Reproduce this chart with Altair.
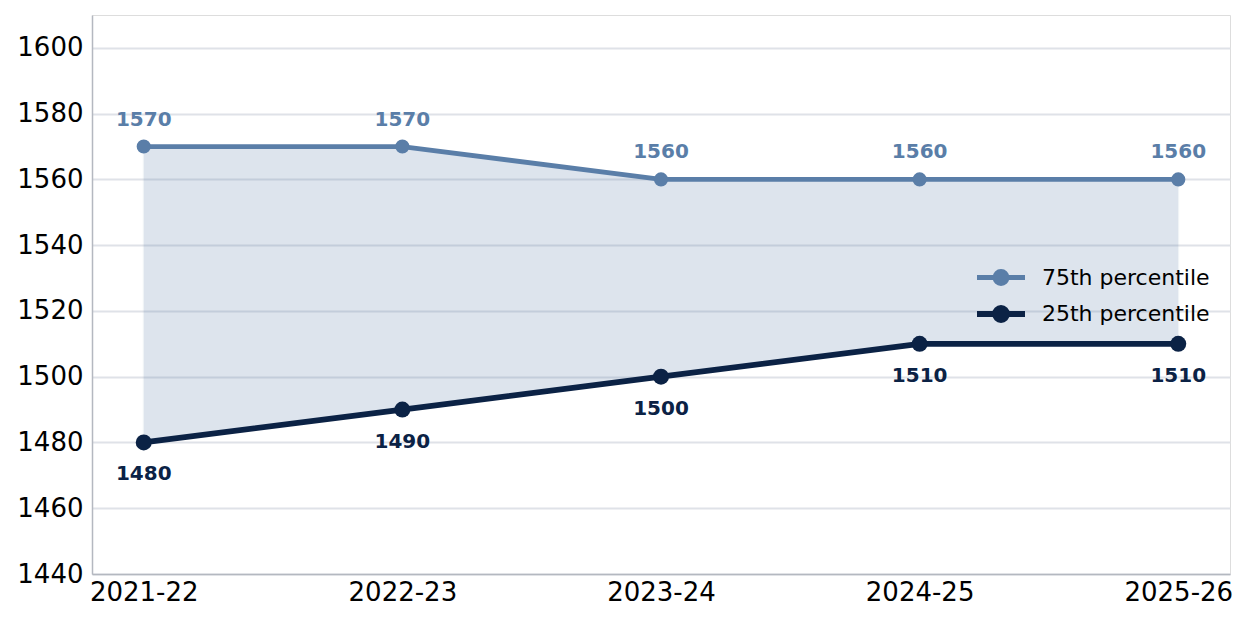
import altair as alt
import pandas as pd

years = ["2021-22", "2022-23", "2023-24", "2024-25", "2025-26"]
p75 = [1570, 1570, 1560, 1560, 1560]
p25 = [1480, 1490, 1500, 1510, 1510]
series_names = ["75th percentile", "25th percentile"]
series_colors = ["#5a7ea8", "#0b2245"]

wide = pd.DataFrame({"year": years, "p75": p75, "p25": p25})
long = pd.concat([
    pd.DataFrame({"year": years, "value": p75, "series": series_names[0]}),
    pd.DataFrame({"year": years, "value": p25, "series": series_names[1]}),
], ignore_index=True)

FONT = "DejaVu Sans"

x_enc = alt.X("year:N", sort=years,
              scale=alt.Scale(type="point", padding=0.2),
              axis=alt.Axis(title=None, labelAngle=0, ticks=False, grid=False,
                            labelFontSize=26, labelColor="#000000", labelFont=FONT,
                            labelPadding=5, domainColor="#b4b8c0", domainWidth=1.5))
y_scale = alt.Scale(domain=[1440, 1610], nice=False, zero=False)
y_enc = alt.Y("value:Q", scale=y_scale,
              axis=alt.Axis(title=None, values=list(range(1440, 1601, 20)), ticks=False,
                            format="d",
                            labelFontSize=26, labelColor="#000000", labelFont=FONT,
                            labelPadding=9, gridColor="#dfe2e8", gridWidth=2,
                            domainColor="#b4b8c0", domainWidth=1.5))

color_scale = alt.Scale(domain=series_names, range=series_colors)


def ring(r):
    return f"M{r},0A{r},{r} 0 1,1 {-r},0A{r},{r} 0 1,1 {r},0Z"


# line segment plus concentric rings (stroked) that read as a filled dot
legend_symbol = "M-2,0H2" + ring(0.5) + ring(0.29) + ring(0.08)

area = alt.Chart(wide).mark_area(color="#5a7ea8", opacity=0.2, stroke="#5a7ea8",
                                 strokeOpacity=0.25, strokeWidth=2).encode(
    x=x_enc,
    y=alt.Y("p25:Q", scale=y_scale),
    y2="p75:Q",
)

lines = alt.Chart(long).mark_line().encode(
    x=x_enc,
    y=y_enc,
    color=alt.Color("series:N", scale=color_scale, sort=series_names,
                    legend=alt.Legend(title=None, orient="none", legendX=894, legendY=248,
                                      symbolType=legend_symbol, symbolSize=576,
                                      labelFontSize=22, labelLimit=400,
                                      labelFont=FONT, labelColor="#000000",
                                      rowPadding=2, labelOffset=26)),
    strokeWidth=alt.StrokeWidth("series:N", scale=alt.Scale(domain=series_names, range=[4.8, 5.8]),
                                legend=None),
)

pts75 = alt.Chart(wide).mark_point(filled=True, opacity=1, size=200,
                                   color=series_colors[0]).encode(
    x=x_enc, y=alt.Y("p75:Q", scale=y_scale))
pts25 = alt.Chart(wide).mark_point(filled=True, opacity=1, size=255,
                                   color=series_colors[1]).encode(
    x=x_enc, y=alt.Y("p25:Q", scale=y_scale))

lab75 = alt.Chart(wide).mark_text(fontSize=20, fontWeight="bold", font=FONT,
                                  color=series_colors[0], dy=-27).encode(
    x=x_enc, y=alt.Y("p75:Q", scale=y_scale), text="p75:Q")
lab25 = alt.Chart(wide).mark_text(fontSize=20, fontWeight="bold", font=FONT,
                                  color=series_colors[1], dy=32).encode(
    x=x_enc, y=alt.Y("p25:Q", scale=y_scale), text="p25:Q")

chart = alt.layer(area, lines, pts75, pts25, lab75, lab25).properties(
    width=1138, height=559,
    autosize=alt.AutoSizeParams(type="none"),
    padding={"left": 84, "top": 7, "right": 12, "bottom": 43},
).configure_view(stroke=None).configure(background="#ffffff")

chart.save("out.html", embed_options={"renderer": "svg", "actions": False})
